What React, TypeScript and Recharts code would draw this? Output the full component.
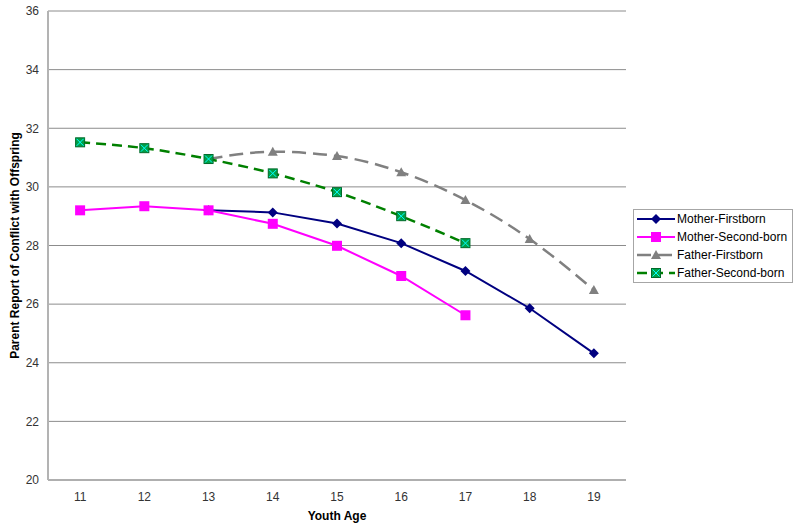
import { CartesianGrid, Legend, Line, LineChart, XAxis, YAxis, Label } from 'recharts';

const ages = [11, 12, 13, 14, 15, 16, 17, 18, 19];
const motherFirstborn = [null, null, 29.2, 29.13, 28.75, 28.08, 27.13, 25.86, 24.32];
const motherSecondborn = [29.2, 29.34, 29.2, 28.74, 27.99, 26.96, 25.62, null, null];
const fatherFirstborn = [null, null, 30.95, 31.2, 31.05, 30.5, 29.55, 28.22, 26.48];
const fatherSecondborn = [31.52, 31.32, 30.95, 30.46, 29.82, 29.0, 28.08, null, null];
const yTicks = [20, 22, 24, 26, 28, 30, 32, 34, 36];

const data = ages.map((age, i) => ({
    age,
    motherFirst: motherFirstborn[i],
    motherSecond: motherSecondborn[i],
    fatherFirst: fatherFirstborn[i],
    fatherSecond: fatherSecondborn[i],
}));

const FONT = '"Liberation Sans", Arial, sans-serif';

type Mark = (x: number, y: number, k?: string) => JSX.Element;

const diamond: Mark = (x, y, k) => (
    <polygon key={k} points={`${x},${y - 5} ${x + 5},${y} ${x},${y + 5} ${x - 5},${y}`} fill="#000080" />
);
const square: Mark = (x, y, k) => (
    <rect key={k} x={x - 5} y={y - 5} width={10} height={10} fill="#ff00ff" />
);
const triangle: Mark = (x, y, k) => (
    <polygon key={k} points={`${x},${y - 5} ${x + 5},${y + 4} ${x - 5},${y + 4}`} fill="#808080" />
);
const crossBox: Mark = (x, y, k) => (
    <g key={k}>
        <rect x={x - 4.5} y={y - 4.5} width={9} height={9} fill="#00a047" stroke="#006a2a" strokeWidth={1} />
        <path d={`M${x - 3.5},${y - 3.5}L${x + 3.5},${y + 3.5}M${x + 3.5},${y - 3.5}L${x - 3.5},${y + 3.5}`} stroke="#00ffff" strokeWidth={1} />
    </g>
);

const series = [
    { key: 'motherFirst', name: 'Mother-Firstborn', color: '#000080', dash: undefined, width: 2, type: 'linear', mark: diamond },
    { key: 'motherSecond', name: 'Mother-Second-born', color: '#ff00ff', dash: undefined, width: 2, type: 'linear', mark: square },
    { key: 'fatherFirst', name: 'Father-Firstborn', color: '#808080', dash: '14 7', width: 2.5, type: 'monotone', mark: triangle },
    { key: 'fatherSecond', name: 'Father-Second-born', color: '#008000', dash: '10 6', width: 2.5, type: 'monotone', mark: crossBox },
];

function dotFor(mark: Mark) {
    return (props: any) => {
        const { cx, cy, value, index } = props;
        if (cx == null || cy == null || value == null) return <g key={'e' + index} />;
        return mark(cx, cy, 'd' + index);
    };
}

function LegendBox() {
    return (
        <div style={{ border: '1px solid #a6a6a6', background: '#fff', fontFamily: FONT, fontSize: 12, color: '#000' }}>
            {series.map((s) => (
                <div key={s.key} style={{ display: 'flex', alignItems: 'center', height: 18 }}>
                    <svg width={38} height={18} style={{ marginLeft: 3 }}>
                        <line x1={0} y1={9} x2={38} y2={9} stroke={s.color} strokeWidth={s.width} strokeDasharray={s.dash} />
                        {s.mark(19, 9)}
                    </svg>
                    <span style={{ marginLeft: 2, whiteSpace: 'nowrap' }}>{s.name}</span>
                </div>
            ))}
        </div>
    );
}

export default function App() {
    return (
        <div style={{ position: 'absolute', left: 0, top: 0 }}>
            <LineChart
                width={800}
                height={527}
                data={data}
                margin={{ top: 11, right: 174, left: 0, bottom: 0 }}
                style={{ fontFamily: FONT, background: '#fff' }}
            >
                <CartesianGrid vertical={false} stroke="#8c8c8c" />
                <XAxis
                    dataKey="age"
                    type="number"
                    domain={[10.5, 19.5]}
                    ticks={ages}
                    height={47}
                    stroke="#999999"
                    tickLine={false}
                    tickSize={0}
                    tickMargin={12}
                    tick={{ fill: '#333', fontSize: 12 }}
                >
                    <Label value="Youth Age" position="insideBottom" offset={7} style={{ fontWeight: 'bold', fontSize: 12, fill: '#000' }} />
                </XAxis>
                <YAxis
                    domain={[20, 36]}
                    ticks={yTicks}
                    width={48}
                    stroke="#b3b3b3"
                    strokeWidth={2}
                    tickLine={false}
                    tickSize={0}
                    tickMargin={9}
                    tick={{ fill: '#333', fontSize: 12 }}
                >
                    <Label
                        value="Parent Report of Conflict with Offspring"
                        angle={-90}
                        position="insideLeft"
                        offset={15}
                        style={{ textAnchor: 'middle', fontWeight: 'bold', fontSize: 12, fill: '#000' }}
                    />
                </YAxis>
                <Legend
                    layout="vertical"
                    align="center"
                    verticalAlign="middle"
                    wrapperStyle={{ left: 633, top: 209, width: 160 }}
                    content={() => <LegendBox />}
                />
                {series.map((s) => (
                    <Line
                        key={s.key}
                        dataKey={s.key}
                        name={s.name}
                        type={s.type as any}
                        stroke={s.color}
                        strokeWidth={s.width}
                        strokeDasharray={s.dash}
                        dot={dotFor(s.mark)}
                        activeDot={false}
                        isAnimationActive={false}
                    />
                ))}
            </LineChart>
        </div>
    );
}
